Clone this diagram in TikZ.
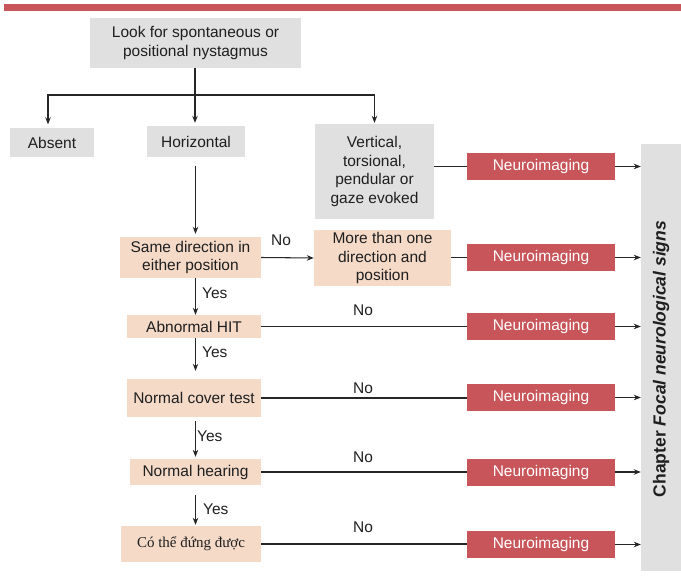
\documentclass[tikz,border=0pt]{standalone}
\usepackage{fontspec}
\setmainfont{Liberation Sans}
\newfontfamily\vnserif{Liberation Serif}
\usetikzlibrary{arrows.meta}
\definecolor{redc}{HTML}{C8555A}
\definecolor{peach}{HTML}{F5DAC8}
\definecolor{grayc}{HTML}{E0E0E0}
\definecolor{linec}{HTML}{262626}
\tikzset{
  base/.style={inner sep=0pt, align=center, font=\fontsize{15.5}{18.6}\selectfont, text=black!88},
  graybox/.style={base, fill=grayc},
  peachbox/.style={base, fill=peach},
  nibox/.style={base, fill=redc, text=white, minimum width=148pt, minimum height=27pt},
  conn/.style={draw=linec, line width=1.05pt},
  arr/.style={conn, -{Stealth[length=7pt,width=5.5pt]}},
  lbl/.style={inner sep=0pt, font=\fontsize{15.5}{18.6}\selectfont, text=black!88},
}
\begin{document}
\begin{tikzpicture}[x=1pt,y=-1pt]
\useasboundingbox (0,0) rectangle (681,580);
\fill[redc] (4,4) rectangle (681,11);
% side bar
\node[graybox, minimum width=40pt, minimum height=427pt] (side) at (661,357.5) {};
\node[rotate=90, inner sep=0pt, font=\fontsize{17.5}{20}\selectfont\bfseries, text=black!88] (sidetext) at (661,359) {Chapter \textit{Focal neurological signs}};
% top level
\node[graybox, minimum width=211pt, minimum height=50pt] (top) at (195.5,43) {Look for spontaneous or\\positional nystagmus};
\node[graybox, minimum width=84pt, minimum height=29pt] (absent) at (52,143) {Absent};
\node[graybox, minimum width=98pt, minimum height=31pt] (horiz) at (196,141.5) {Horizontal};
\node[graybox, minimum width=119pt, minimum height=95pt] (vert) at (374.5,171.5) {Vertical,\\torsional,\\pendular or\\gaze evoked};
% left column
\node[peachbox, minimum width=141pt, minimum height=41pt] (same) at (190.5,257.5) {Same direction in\\either position};
\node[peachbox, minimum width=137pt, minimum height=56pt] (more) at (382.5,258) {More than one\\direction and\\position};
\node[peachbox, minimum width=134pt, minimum height=23pt] (hit) at (194,326.5) {Abnormal HIT};
\node[peachbox, minimum width=134pt, minimum height=38pt] (cover) at (194,398) {Normal cover test};
\node[peachbox, minimum width=131pt, minimum height=26pt] (hearing) at (195.5,472) {Normal hearing};
\node[peachbox, minimum width=140pt, minimum height=36pt, font=\vnserif\fontsize{15}{18}\selectfont] (can) at (191,544) {Có thể đứng được};
% neuroimaging
\node[nibox] (ni1) at (541,166.5) {Neuroimaging};
\node[nibox] (ni2) at (541,257.5) {Neuroimaging};
\node[nibox] (ni3) at (541,326.5) {Neuroimaging};
\node[nibox] (ni4) at (541,397.5) {Neuroimaging};
\node[nibox] (ni5) at (541,472) {Neuroimaging};
\node[nibox] (ni6) at (541,544.5) {Neuroimaging};
% coordinates
\coordinate (j) at (195,95);
\coordinate (cx) at (195.5,0);
% top branching
\draw[conn] (top.south -| j) -- (j);
\draw[arr, shorten >=4pt] (j) -| ([xshift=-4pt]absent.north);
\draw[arr, shorten >=3pt] (j) -- (j |- horiz.north);
\draw[arr, shorten >=1pt] (j) -| (vert.north);
% horizontal branch
\draw[arr, shorten <=9pt, shorten >=3pt] (horiz.south -| cx) -- (same.north -| cx);
\draw[arr] (same.east) -- (more.west);
\node[lbl] (no0) at (281,240) {No};
\draw[arr] (same.south -| cx) -- (hit.north -| cx);
\node[lbl, anchor=west] (y1) at (202,293) {Yes};
\draw[arr, shorten >=8pt] (hit.south -| cx) -- (cover.north -| cx);
\node[lbl, anchor=west] (y2) at (202,352) {Yes};
\draw[arr, shorten <=4pt, shorten >=2pt] (cover.south -| cx) -- (hearing.north -| cx);
\node[lbl, anchor=west] (y3) at (197,436) {Yes};
\draw[arr, shorten <=10pt, shorten >=1pt] (hearing.south -| cx) -- (can.north -| cx);
\node[lbl, anchor=west] (y4) at (203,509) {Yes};
% lines to neuroimaging
\draw[conn] (vert.east |- ni1) -- (ni1.west);
\draw[conn] (more.east |- ni2) -- (ni2.west);
\draw[conn] (hit.east) -- (ni3.west |- hit.east);
\node[lbl] (no1) at (363,310) {No};
\draw[conn] (cover.east) -- (ni4.west |- cover.east);
\node[lbl] (no2) at (363,388) {No};
\draw[conn] (hearing.east) -- (ni5.west |- hearing.east);
\node[lbl] (no3) at (363,457) {No};
\draw[conn] (can.east) -- (ni6.west |- can.east);
\node[lbl] (no4) at (363,527) {No};
% arrows to side bar
\foreach \n in {ni1,ni2,ni3,ni4,ni5,ni6}{
  \draw[arr] (\n.east) -- (\n.east -| side.west);
}
\end{tikzpicture}
\end{document}
